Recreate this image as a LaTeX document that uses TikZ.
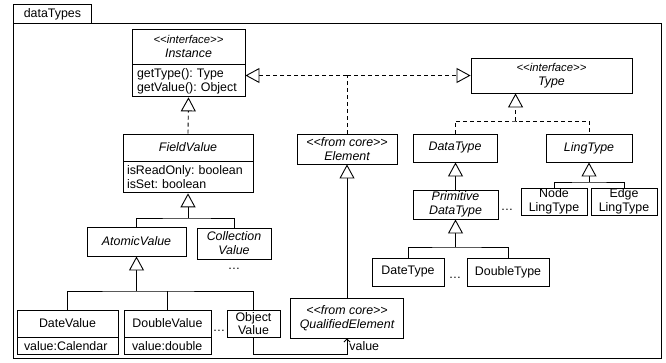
\documentclass[tikz,border=0pt]{standalone}
\usepackage{fontspec}
\setmainfont{Liberation Sans}
\usetikzlibrary{arrows.meta,calc}
\frenchspacing
% UML stereotype guillemets written as two separate angle brackets
\newcommand\stereo[1]{<\kern0pt<#1>\kern0pt>}
\newcommand\smallst[1]{{\fontsize{11.3}{12}\selectfont\stereo{#1}}}
\begin{document}
\begin{tikzpicture}[x=1pt,y=-1pt,
  line width=0.9pt,
  font=\fontsize{12.4}{14}\selectfont,
  box/.style={draw, fill=white, inner sep=0pt, align=center},
  abox/.style={box, font=\fontsize{12.4}{14}\selectfont\itshape},
  attrs/.style={draw, fill=white, inner ysep=0pt, inner xsep=#1, align=left},
  dep/.style={dash pattern=on 4pt off 3pt},
  gen/.style={-{Triangle[length=14pt,width=15pt,fill=white]}},
  more/.style={inner sep=0pt}
]
\useasboundingbox (0,0) rectangle (666,362);

% package frame
\node[draw, minimum width=78pt, minimum height=19pt, inner sep=0pt, anchor=north west] (tab) at (13,4) {dataTypes};
\node[draw, minimum width=648pt, minimum height=335pt, inner sep=0pt, anchor=north west] (pkg) at (13,23) {};

% classes
\node[abox, minimum width=113pt, minimum height=35pt] (instH) at (188.5,46.5) {\smallst{interface}\\Instance};
\node[attrs=5pt, text width=103pt, minimum height=32pt, anchor=north] (instB) at (instH.south) {getType(): Type\\getValue(): Object};

\node[abox, minimum width=161pt, minimum height=35pt] (type) at (551.5,75.5) {\smallst{interface}\\Type};

\node[abox, minimum width=100pt, minimum height=30pt] (elem) at (347,149) {\stereo{from core}\\Element};

\node[abox, minimum width=130pt, minimum height=27pt] (fvH) at (188,147.5) {FieldValue};
\node[attrs=4pt, text width=122pt, minimum height=31pt, anchor=north] (fvB) at (fvH.south) {isReadOnly: boolean\\isSet: boolean};

\node[abox, minimum width=99pt, minimum height=29pt] (atomic) at (136.5,241.5) {AtomicValue};
\node[abox, minimum width=74pt, minimum height=31pt] (coll) at (234,243.5) {Collection\\Value};
\node[more] (collmore) at (234,269) {\ldots};

\node[box, minimum width=101pt, minimum height=27pt] (dateVH) at (67.5,323.5) {DateValue};
\node[attrs=7pt, text width=87pt, minimum height=17pt, anchor=north] (dateVB) at (dateVH.south) {value:Calendar};
\node[box, minimum width=87pt, minimum height=27pt] (doubleVH) at (167.5,323.5) {DoubleValue};
\node[attrs=8pt, text width=71pt, minimum height=17pt, anchor=north] (doubleVB) at (doubleVH.south) {value:double};
\node[more] (valmore) at (219,331) {\ldots};
\node[box, minimum width=53pt, minimum height=27pt, font=\fontsize{12.4}{13}\selectfont] (objV) at (253.5,323.5) {Object\\Value};

\node[abox, minimum width=113pt, minimum height=40pt] (qual) at (347,318) {\stereo{from core}\\QualifiedElement};

\node[abox, minimum width=84pt, minimum height=28pt] (dataT) at (455,148) {DataType};
\node[abox, minimum width=86pt, minimum height=28pt] (lingT) at (589,148) {LingType};
\node[abox, minimum width=85pt, minimum height=29pt] (prim) at (455.5,204.5) {Primitive\\DataType};
\node[more] (primmore) at (507,210) {\ldots};
\node[box, minimum width=66pt, minimum height=27pt] (nodeLT) at (554,201.5) {Node\\LingType};
\node[box, minimum width=66pt, minimum height=27pt] (edgeLT) at (624,201.5) {Edge\\LingType};
\node[box, minimum width=72pt, minimum height=28pt] (dateT) at (408,272) {DateType};
\node[box, minimum width=82pt, minimum height=28pt] (doubleT) at (508,272) {DoubleType};
\node[more] (typemore) at (455,278) {\ldots};

% realizations of Instance and Type
\draw[dep, gen] (fvH.north) -- (instB.south);
\coordinate (ej) at (elem.north |- type.west);
\draw[dep] (elem.north) -- (ej);
\draw[dep, gen] (ej) -- (instB.east |- ej);
\draw[dep, gen] (ej) -- (type.west);

\coordinate (tt) at ([xshift=45pt]type.south west);
\coordinate (tbus) at (tt |- 0,121);
\draw[dep] (dataT.north) |- (tbus) -| (lingT.north);
\draw[dep, gen] (tbus) -- (tt);

% generalizations
\draw[gen] (prim.north) -- (prim.north |- dataT.south);

\coordinate (lbus) at (lingT.south |- 0,182);
\draw (nodeLT.north) |- (lbus) -| (edgeLT.north);
\draw[gen] (lbus) -- (lingT.south);

\coordinate (pbus) at (prim.south |- 0,247);
\draw (dateT.north) |- (pbus) -| (doubleT.north);
\draw[gen] (pbus) -- (prim.south);

\coordinate (fbus) at (fvB.south |- 0,218);
\draw (atomic.north) |- (fbus) -| (coll.north);
\draw[gen] (fbus) -- (fvB.south);

\coordinate (abus) at (atomic.south |- 0,291);
\draw (dateVH.north) |- (abus) -| (objV.north);
\draw (doubleVH.north) -- (doubleVH.north |- abus);
\draw[line width=1.6pt] (abus) -- (atomic.south);
\draw[gen] ([yshift=-14pt]atomic.south) -- (atomic.south);

\draw[gen] (elem.south |- qual.north) -- (elem.south);

% association to QualifiedElement
\coordinate (vturn) at ([yshift=-17pt]objV.south);
\draw[-{Straight Barb[length=3pt,width=6pt]}] (objV.south) -- (vturn) -| (qual.south);
\node[anchor=west, inner sep=0pt] (vlab) at ([xshift=2pt,yshift=-8pt]qual.south) {value};
\end{tikzpicture}
\end{document}
